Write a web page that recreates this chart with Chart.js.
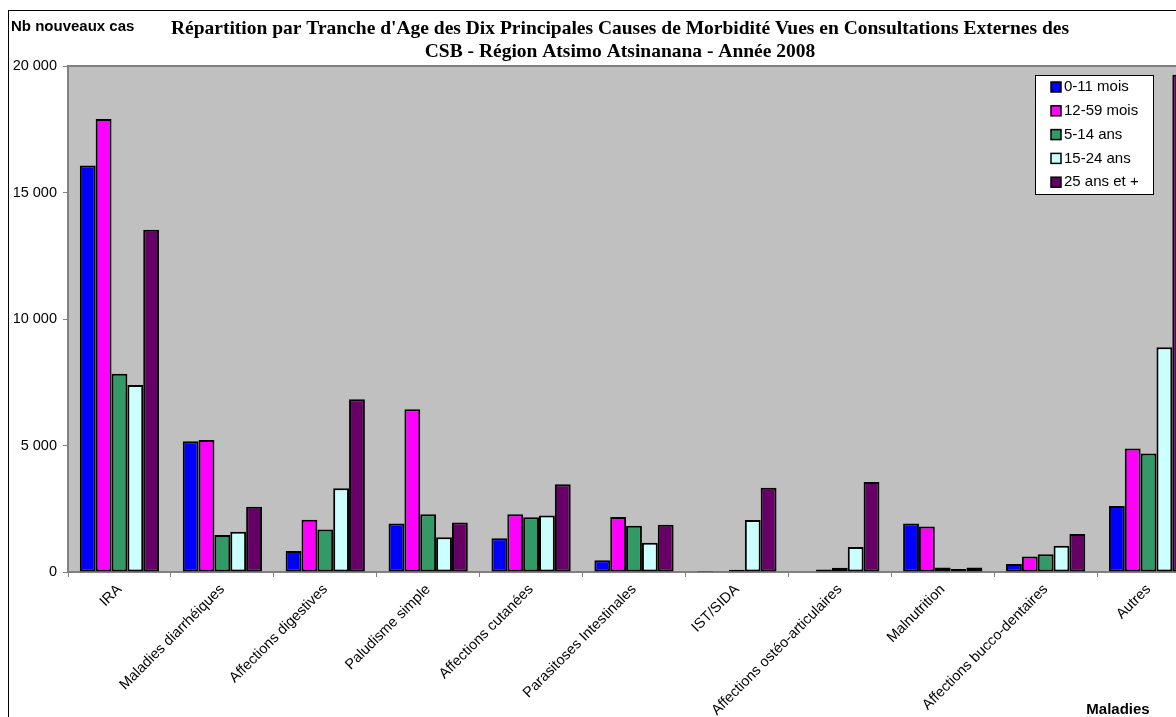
<!DOCTYPE html>
<html lang="fr">
<head>
    <meta charset="utf-8" />
    <title>Morbidité CSB - Atsimo Atsinanana 2008</title>
    <style>
        body {
            margin: 0;
            background: #fff;
            overflow: hidden;
        }
        #wrap {
            width: 1240px;
            height: 720px;
        }
    </style>
</head>
<body>
    <div id="wrap">
        <canvas id="morbChart" width="1240" height="720"></canvas>
    </div>
    <script src="https://cdn.jsdelivr.net/npm/chart.js"></script>
    <script>
        var maladies = ['IRA', 'Maladies diarrhéiques', 'Affections digestives', 'Paludisme simple',
            'Affections cutanées', 'Parasitoses Intestinales', 'IST/SIDA', 'Affections ostéo-articulaires',
            'Malnutrition', 'Affections bucco-dentaires', 'Autres'];
        var trancheAge = ['0-11 mois', '12-59 mois', '5-14 ans', '15-24 ans', '25 ans et +'];
        var cas0_11m = [16070, 5170, 830, 1920, 1330, 460, 40, 20, 1920, 320, 2610];
        var cas12_59m = [17910, 5220, 2070, 6430, 2280, 2170, 30, 100, 1800, 610, 4880];
        var cas5_14a = [7840, 1460, 1680, 2280, 2160, 1830, 90, 170, 180, 700, 4680];
        var cas15_24a = [7390, 1590, 3310, 1370, 2230, 1160, 2060, 990, 120, 1040, 8880];
        var cas25plus = [13530, 2580, 6830, 1960, 3470, 1870, 3330, 3560, 180, 1500, 19650];
        var yTicks = [0, 5000, 10000, 15000, 20000];

        var couleurs = ['#0000FF', '#FF00FF', '#339966', '#CCFFFF', '#660066'];
        var series = [cas0_11m, cas12_59m, cas5_14a, cas15_24a, cas25plus];

        var sans = "'Liberation Sans', Arial, sans-serif";
        var serif = "'Liberation Serif', 'Times New Roman', serif";

        function fmt(v) {
            return String(v).replace(/\B(?=(\d{3})+(?!\d))/g, ' ');
        }

        // background, frame, titles and the boxed legend
        var decor = {
            id: 'decor',
            beforeDraw: function (chart) {
                var ctx = chart.ctx, a = chart.chartArea;
                ctx.save();
                ctx.fillStyle = '#fff';
                ctx.fillRect(0, 0, chart.width, chart.height);
                ctx.strokeStyle = '#000';
                ctx.lineWidth = 1;
                ctx.strokeRect(8.5, 10.5, 1224, 720);
                ctx.fillStyle = '#C0C0C0';
                ctx.fillRect(a.left, a.top, a.right - a.left, a.bottom - a.top);
                ctx.strokeStyle = '#808080';
                ctx.lineWidth = 2;
                ctx.strokeRect(a.left, a.top, a.right - a.left, a.bottom - a.top);
                ctx.restore();
            },
            afterDraw: function (chart) {
                var ctx = chart.ctx, a = chart.chartArea;
                ctx.save();
                ctx.fillStyle = '#000';
                ctx.textBaseline = 'middle';

                ctx.font = 'bold 19.5px ' + serif;
                ctx.textAlign = 'center';
                ctx.fillText("Répartition par Tranche d'Age des Dix Principales Causes de Morbidité Vues en Consultations Externes des", 620, 29);
                ctx.fillText('CSB - Région Atsimo Atsinanana - Année 2008', 620, 52);

                ctx.font = 'bold 15px ' + sans;
                ctx.textAlign = 'left';
                ctx.fillText('Nb nouveaux cas', 11, 27);
                ctx.textAlign = 'center';
                ctx.fillText('Maladies', 1118, 710);

                // legend box
                var lx = a.right - 165, ly = a.top + 9;
                ctx.fillStyle = '#fff';
                ctx.fillRect(lx, ly, 118, 119);
                ctx.strokeStyle = '#000';
                ctx.lineWidth = 1;
                ctx.strokeRect(lx + 0.5, ly + 0.5, 118, 119);
                ctx.font = '15px ' + sans;
                ctx.textAlign = 'left';
                chart.data.datasets.forEach(function (ds, i) {
                    var cy = ly + 12 + i * 23.8;
                    ctx.fillStyle = ds.backgroundColor;
                    ctx.fillRect(lx + 16, cy - 5, 10, 10);
                    ctx.strokeStyle = '#000';
                    ctx.lineWidth = 1.5;
                    ctx.strokeRect(lx + 16, cy - 5, 10, 10);
                    ctx.fillStyle = '#000';
                    ctx.fillText(ds.label, lx + 29, cy);
                });
                ctx.restore();
            }
        };

        var ctx = document.getElementById('morbChart').getContext('2d');
        var morbChart = new Chart(ctx, {
            type: 'bar',
            data: {
                labels: maladies,
                datasets: trancheAge.map(function (t, i) {
                    return {
                        label: t,
                        data: series[i],
                        backgroundColor: couleurs[i],
                        borderColor: '#000',
                        borderWidth: 2,
                        borderSkipped: false,
                        categoryPercentage: 0.77,
                        barPercentage: 1
                    };
                })
            },
            options: {
                responsive: false,
                animation: false,
                layout: { padding: { top: 66, right: 40, left: 0, bottom: 0 } },
                plugins: {
                    legend: { display: false },
                    title: { display: false },
                    tooltip: { enabled: false }
                },
                scales: {
                    x: {
                        grid: { offset: true, drawOnChartArea: false, tickLength: 5, color: '#808080' },
                        border: { color: '#808080', width: 1 },
                        ticks: {
                            autoSkip: false,
                            minRotation: 45,
                            maxRotation: 45,
                            padding: 4,
                            color: '#000',
                            font: { family: sans, size: 14.5 }
                        },
                        afterFit: function (s) { s.height = 148; }
                    },
                    y: {
                        min: 0,
                        max: 20000,
                        afterBuildTicks: function (s) {
                            s.ticks = yTicks.map(function (v) { return { value: v }; });
                        },
                        grid: { drawOnChartArea: false, tickLength: 5, color: '#808080' },
                        border: { color: '#808080', width: 1 },
                        ticks: {
                            padding: 6,
                            color: '#000',
                            font: { family: sans, size: 14.5 },
                            callback: function (v) { return fmt(v); }
                        },
                        afterFit: function (s) { s.width = 68; }
                    }
                }
            },
            plugins: [decor]
        });
    </script>
</body>
</html>
